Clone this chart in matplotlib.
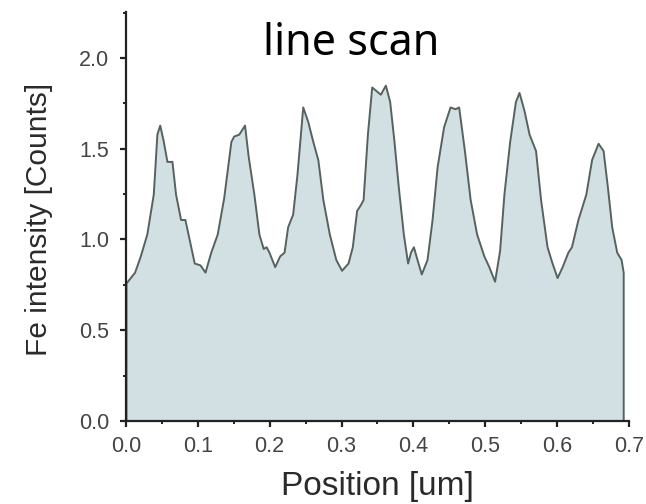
import matplotlib
matplotlib.use("Agg")
import matplotlib.pyplot as plt
from matplotlib.ticker import MultipleLocator

# Fe line-scan profile
position_um = [
    0.000, 0.012, 0.020, 0.029, 0.038, 0.043, 0.047, 0.052, 0.057, 0.064,
    0.069, 0.076, 0.082, 0.088, 0.095, 0.103, 0.110, 0.118, 0.127, 0.136,
    0.146, 0.150, 0.157, 0.165, 0.170, 0.178, 0.185, 0.191, 0.195, 0.199,
    0.207, 0.214, 0.220, 0.225, 0.232, 0.238, 0.246, 0.253, 0.260, 0.267,
    0.274, 0.283, 0.292, 0.300, 0.309, 0.315, 0.321, 0.326, 0.330, 0.336,
    0.342, 0.348, 0.354, 0.361, 0.367, 0.373, 0.379, 0.386, 0.392, 0.396,
    0.400, 0.405, 0.411, 0.419, 0.426, 0.433, 0.442, 0.451, 0.458, 0.463,
    0.471, 0.479, 0.488, 0.498, 0.505, 0.513, 0.520, 0.526, 0.534, 0.542,
    0.547, 0.554, 0.561, 0.570, 0.577, 0.586, 0.593, 0.600, 0.607, 0.615,
    0.620, 0.629, 0.640, 0.648, 0.657, 0.664, 0.670, 0.676, 0.683, 0.689,
    0.692,
]
fe_counts = [
    0.76, 0.82, 0.91, 1.03, 1.25, 1.58, 1.63, 1.54, 1.43, 1.43,
    1.25, 1.11, 1.11, 1.00, 0.87, 0.86, 0.82, 0.93, 1.03, 1.23,
    1.54, 1.57, 1.58, 1.63, 1.46, 1.25, 1.03, 0.95, 0.96, 0.93,
    0.85, 0.91, 0.93, 1.07, 1.14, 1.36, 1.73, 1.65, 1.54, 1.44,
    1.22, 1.03, 0.89, 0.83, 0.87, 0.96, 1.16, 1.19, 1.22, 1.58,
    1.84, 1.82, 1.80, 1.85, 1.76, 1.54, 1.29, 1.03, 0.87, 0.93,
    0.96, 0.89, 0.81, 0.89, 1.11, 1.40, 1.62, 1.73, 1.72, 1.73,
    1.49, 1.22, 1.03, 0.91, 0.85, 0.77, 0.94, 1.25, 1.54, 1.76,
    1.81, 1.71, 1.58, 1.49, 1.22, 0.96, 0.87, 0.79, 0.85, 0.93,
    0.96, 1.11, 1.25, 1.44, 1.53, 1.49, 1.29, 1.07, 0.93, 0.89,
    0.82,
]
x_ticks = [0.0, 0.1, 0.2, 0.3, 0.4, 0.5, 0.6, 0.7]
y_ticks = [0.0, 0.5, 1.0, 1.5, 2.0]

fig = plt.figure(figsize=(6.46, 5.04), dpi=100)
ax = fig.add_axes([0.195, 0.1647, 0.7786, 0.8115])

ax.fill_between(position_um, fe_counts, 0, facecolor="#d3e0e3",
                edgecolor="#55635f", linewidth=1.4, zorder=2)

ax.set_xlim(0, 0.7)
ax.set_ylim(0, 2.253)
ax.set_xticks(x_ticks)
ax.set_yticks(y_ticks)
ax.set_xticklabels([f"{t:.1f}" for t in x_ticks])
ax.set_yticklabels([f"{t:.1f}" for t in y_ticks])
ax.xaxis.set_minor_locator(MultipleLocator(0.05))
ax.yaxis.set_minor_locator(MultipleLocator(0.25))

for side in ("top", "right"):
    ax.spines[side].set_visible(False)
for side in ("left", "bottom"):
    ax.spines[side].set_linewidth(1.6)
    ax.spines[side].set_color("#222222")
    ax.spines[side].set_zorder(3)

ax.tick_params(which="major", direction="out", length=4, width=1.6,
               color="#222222", labelsize=15.5, labelcolor="#444444")
ax.tick_params(axis="x", which="major", pad=6.5)
ax.tick_params(axis="y", which="major", pad=8)
ax.tick_params(which="minor", direction="out", length=2.5, width=1.4,
               color="#222222")
for lbl in ax.get_xticklabels() + ax.get_yticklabels():
    lbl.set_fontfamily("Liberation Sans")

ax.set_xlabel("Position [um]", fontsize=24, family="Liberation Sans",
              color="#2a2a2a", va="baseline")
ax.xaxis.set_label_coords(0.5, -0.181)
ax.set_ylabel("Fe intensity [Counts]", fontsize=21.5, family="Liberation Sans",
              color="#2a2a2a", va="center")
ax.yaxis.set_label_coords(-0.172, 0.494)

fig.text(0.543, 0.913, "line scan", fontsize=31, family="Noto Sans",
         color="black", ha="center", va="center")

fig.savefig("out.png", dpi=100, facecolor="white")
